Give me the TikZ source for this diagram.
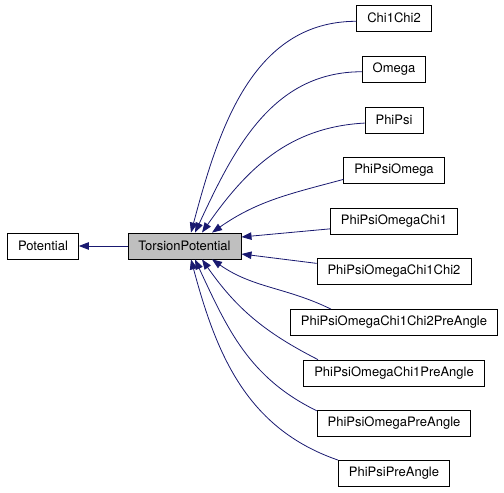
\documentclass[tikz,border=0pt]{standalone}
\usepackage{fontspec}
\setmainfont{TeX Gyre Heros}
\usetikzlibrary{arrows.meta}
\definecolor{edgeblue}{HTML}{191970}
\definecolor{basegray}{HTML}{BFBFBF}

\begin{document}
\begin{tikzpicture}[x=1pt,y=1pt]

    \tikzstyle{every node}=[font=\fontsize{13}{15}\selectfont]
    \tikzstyle{cls}=[draw=black, line width=0.8pt, fill=white, inner xsep=10.5pt, inner ysep=0pt, minimum height=26pt]
    \tikzstyle{inh}=[draw=edgeblue, line width=0.8pt, -{Triangle[length=10pt,width=7.5pt]}]
    \def\colx{394}

    \useasboundingbox (0,0) rectangle (504,493);

    \node[cls] (pot) at (43,247) {Potential};
    \node[cls, fill=basegray] (tp) at (184.5,247) {TorsionPotential};

    \node[cls] (chi)     at (\colx,475)   {Chi1Chi2};
    \node[cls] (ome)     at (\colx,423.5) {Omega};
    \node[cls] (pp)      at (\colx,373)   {PhiPsi};
    \node[cls] (ppo)     at (\colx,322.5) {PhiPsiOmega};
    \node[cls] (ppoc)    at (\colx,272)   {PhiPsiOmegaChi1};
    \node[cls] (ppocc)   at (\colx,221.5) {PhiPsiOmegaChi1Chi2};
    \node[cls] (ppoccpa) at (\colx,170.5) {PhiPsiOmegaChi1Chi2PreAngle};
    \node[cls] (ppocpa)  at (\colx,120)   {PhiPsiOmegaChi1PreAngle};
    \node[cls] (ppopa)   at (\colx,70)    {PhiPsiOmegaPreAngle};
    \node[cls] (pppa)    at (\colx,20)    {PhiPsiPreAngle};

    \draw[inh] (tp) -- (pot);

    \draw[inh] (chi.185)  to[out=180,in=75] ([xshift=6.5pt]tp.north);
    \draw[inh] (ome.184)  to[out=180,in=65] ([xshift=10.5pt]tp.north);
    \draw[inh] (pp.186)   to[out=183,in=55] ([xshift=17.5pt]tp.north);
    \draw[inh] (ppo.190)  to[out=195,in=35] ([xshift=27.5pt]tp.north);
    \draw[inh] (ppoc.187) -- ([yshift=9pt]tp.east);
    \draw[inh] (ppocc.174) -- ([yshift=-8pt]tp.east);
    \draw[inh] (ppoccpa.168) to[out=154,in=-35] ([xshift=27.5pt]tp.south);
    \draw[inh] (ppocpa.170)  to[out=153,in=-55] ([xshift=17.5pt]tp.south);
    \draw[inh] (ppopa.171)   to[out=154,in=-65] ([xshift=10.5pt]tp.south);
    \draw[inh] (pppa.167)    to[out=161,in=-75] ([xshift=6.5pt]tp.south);

\end{tikzpicture}
\end{document}
